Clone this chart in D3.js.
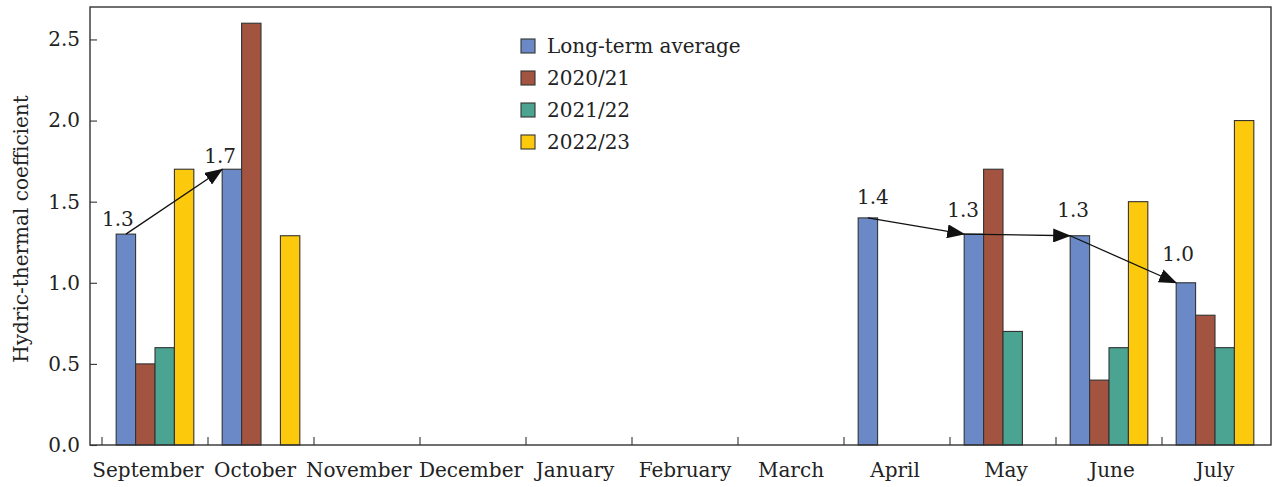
<!DOCTYPE html>
<html>
<head>
<meta charset="utf-8">
<script src="https://cdn.jsdelivr.net/npm/d3@7"></script>
<style>
  html, body { margin: 0; padding: 0; background: #fff; }
  svg { display: block; }
</style>
</head>
<body>
<svg id="chart" width="1274" height="487"></svg>
<script>
// ---------- data ----------
const months = ["September","October","November","December","January","February","March","April","May","June","July"];
const seriesNames = ["Long-term average","2020/21","2021/22","2022/23"];
const longTerm = [1.3, 1.7, null, null, null, null, null, 1.4, 1.3, 1.29, 1.0];
const y2020 = [0.5, 2.6, null, null, null, null, null, null, 1.7, 0.4, 0.8];
const y2021 = [0.6, null, null, null, null, null, null, null, 0.7, 0.6, 0.6];
const y2022 = [1.7, 1.29, null, null, null, null, null, null, null, 1.5, 2.0];
const yTicks = [0, 0.5, 1.0, 1.5, 2.0, 2.5];
const arrowPairs = [["September","October"],["April","May"],["May","June"],["June","July"]];
const annotatedMonths = ["September","October","April","May","June","July"];
const yTitle = "Hydric-thermal coefficient";

// ---------- styles ----------
const FONT = "'DejaVu Serif', serif";
const FS = 20;
const colors = ["#6a89c6", "#a25440", "#4ba391", "#fdc90c"];
const values = [longTerm, y2020, y2021, y2022];
const frame = {left: 90, right: 1271, top: 7, bottom: 445};
const labelOffset = {
  September: [-8, -8], October: [-2, -6], April: [5, -14],
  May: [-1, -17], June: [3, -19], July: [2, -22]
};
// small horizontal nudges of month labels (typesetting in the original)
const monthLabelDx = [-7, -6, -8, -2, -4, 0, 0, -2, 3, 3, 0];

const svg = d3.select("#chart").attr("font-family", FONT).style("font-family", FONT);

const x = d3.scaleBand().domain(months).range([102, 1268]).padding(0);
const x1 = d3.scaleBand().domain(seriesNames).range([0, x.bandwidth()])
  .paddingInner(0).paddingOuter(0.73);
const y = d3.scaleLinear().domain([0, 2.7]).range([frame.bottom, frame.top]);

svg.append("defs").append("marker")
  .attr("id", "arrow")
  .attr("viewBox", "0 0 18 14")
  .attr("markerUnits", "userSpaceOnUse")
  .attr("markerWidth", 18).attr("markerHeight", 14)
  .attr("refX", 17).attr("refY", 7)
  .attr("orient", "auto")
  .append("path").attr("d", "M0,0 L18,7 L0,14 Z").attr("fill", "#111");

const barData = [];
seriesNames.forEach((s, si) => {
  months.forEach((m, mi) => {
    const v = values[si][mi];
    if (v != null) barData.push({s, si, m, v});
  });
});
svg.append("g").selectAll("rect").data(barData).join("rect")
  .attr("x", d => x(d.m) + x1(d.s))
  .attr("y", d => y(d.v))
  .attr("width", x1.bandwidth())
  .attr("height", d => y(0) - y(d.v))
  .attr("fill", d => colors[d.si])
  .attr("stroke", "#333")
  .attr("stroke-width", 1.1);

svg.append("rect")
  .attr("x", frame.left).attr("y", frame.top)
  .attr("width", frame.right - frame.left).attr("height", frame.bottom - frame.top)
  .attr("fill", "none").attr("stroke", "#333").attr("stroke-width", 1.4);

const yAxis = d3.axisLeft(y).tickValues(yTicks).tickFormat(d3.format(".1f"))
  .tickSizeInner(-7).tickSizeOuter(0).tickPadding(10);
const gy = svg.append("g").attr("transform", `translate(${frame.left},0)`).call(yAxis);
gy.attr("font-family", FONT).attr("font-size", FS);
gy.select(".domain").remove();
gy.selectAll(".tick line").attr("stroke", "#333").attr("stroke-width", 1.1);
gy.selectAll(".tick text").attr("fill", "#222").style("font-family", FONT).style("font-size", FS + "px");

svg.append("g").selectAll("line").data(months).join("line")
  .attr("x1", d => x(d)).attr("x2", d => x(d))
  .attr("y1", frame.bottom).attr("y2", frame.bottom - 8)
  .attr("stroke", "#333").attr("stroke-width", 1.1);

function txt(sel) {
  return sel.attr("fill", "#222").style("font-family", FONT).style("font-size", FS + "px");
}

txt(svg.append("g").selectAll("text").data(months).join("text")
  .attr("x", (d, i) => x(d) + x.bandwidth() / 2 + monthLabelDx[i])
  .attr("y", 477)
  .attr("text-anchor", "middle")
  .text(d => d));

txt(svg.append("text")
  .attr("transform", `translate(28,${(frame.top + frame.bottom) / 2 + 3}) rotate(-90)`)
  .attr("text-anchor", "middle")
  .text(yTitle));

const bw = x1.bandwidth();
const chained = new Set(arrowPairs.map(p => p[1]));
function anchor(m) {
  const v = longTerm[months.indexOf(m)];
  const bx = x(m) + x1(seriesNames[0]);
  return {x: chained.has(m) ? bx : bx + bw / 2, y: y(v), v};
}

svg.append("g").selectAll("line").data(arrowPairs).join("line")
  .attr("x1", d => anchor(d[0]).x)
  .attr("y1", d => anchor(d[0]).y)
  .attr("x2", d => x(d[1]) + x1(seriesNames[0]))
  .attr("y2", d => anchor(d[1]).y)
  .attr("stroke", "#111").attr("stroke-width", 1.3)
  .attr("marker-end", "url(#arrow)");

txt(svg.append("g").selectAll("text").data(annotatedMonths).join("text")
  .attr("x", d => anchor(d).x + labelOffset[d][0])
  .attr("y", d => anchor(d).y + labelOffset[d][1])
  .attr("text-anchor", "middle")
  .text(d => anchor(d).v.toFixed(1)));

const lg = svg.append("g").attr("transform", "translate(521,45)");
const li = lg.selectAll("g").data(seriesNames).join("g")
  .attr("transform", (d, i) => `translate(0,${i * 32})`);
li.append("rect").attr("x", 0).attr("y", -6).attr("width", 14).attr("height", 14)
  .attr("fill", (d, i) => colors[i]).attr("stroke", "#333").attr("stroke-width", 1.1);
txt(li.append("text").attr("x", 26).attr("y", 8).text(d => d));
</script>
</body>
</html>
